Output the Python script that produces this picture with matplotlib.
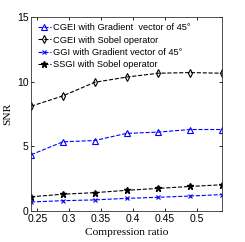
import matplotlib
matplotlib.use('Agg')
import matplotlib.pyplot as plt

ratio = [0.24, 0.29, 0.34, 0.39, 0.44, 0.49, 0.54]
cgei_grad = [4.35, 5.35, 5.45, 6.0, 6.1, 6.3, 6.3]
cgei_sobel = [8.1, 8.9, 9.95, 10.35, 10.65, 10.7, 10.65]
ggi_grad = [0.7, 0.8, 0.86, 0.98, 1.06, 1.16, 1.27]
ssgi_sobel = [1.1, 1.3, 1.42, 1.6, 1.75, 1.9, 2.03]

labels = ['CGEI with Gradient  vector of 45\u00b0',
          'CGEI with Sobel operator',
          'GGI with Gradient vector of 45\u00b0',
          'SSGI with Sobel operator']

plt.rcParams['font.family'] = 'Liberation Sans'

fig = plt.figure(figsize=(2.45, 2.42), dpi=100)
ax = fig.add_axes([0.127, 0.128, 0.779, 0.802])

ax.plot(ratio, cgei_grad, '--', color='blue', marker='^', mfc='none', ms=4, lw=0.8, mew=0.8, label=labels[0])
ax.plot(ratio, cgei_sobel, '--', color='black', marker='d', mfc='none', ms=4, lw=0.8, mew=0.8, label=labels[1])
ax.plot(ratio, ggi_grad, '--', color='blue', marker='x', ms=2.5, lw=0.8, mew=0.8, label=labels[2])
ax.plot(ratio, ssgi_sobel, '--', color='black', marker='*', ms=4.5, lw=0.8, label=labels[3])

ax.set_xlim(0.24, 0.54)
ax.set_ylim(0, 15)
ax.set_xticks([0.25, 0.3, 0.35, 0.4, 0.45, 0.5])
ax.set_xticklabels(['0.25', '0.3', '0.35', '0.4', '0.45', '0.5'])
ax.set_yticks([0, 5, 10, 15])
ax.tick_params(direction='in', top=True, right=True, labelsize=7.5, length=2.5, width=0.6, pad=2)
for s in ax.spines.values():
    s.set_linewidth(0.6)
    s.set_color('#333333')

ax.set_xlabel('Compression ratio', family='Liberation Serif', fontsize=8.2, labelpad=3)
ax.set_ylabel('SNR', family='Liberation Serif', fontsize=8.2, labelpad=3)

ax.legend(loc='upper left', frameon=False, fontsize=6.7, handlelength=1.4, handletextpad=0.2,
          labelspacing=0.35, borderaxespad=0.4, borderpad=0.3)

fig.savefig('out.png', dpi=100)
